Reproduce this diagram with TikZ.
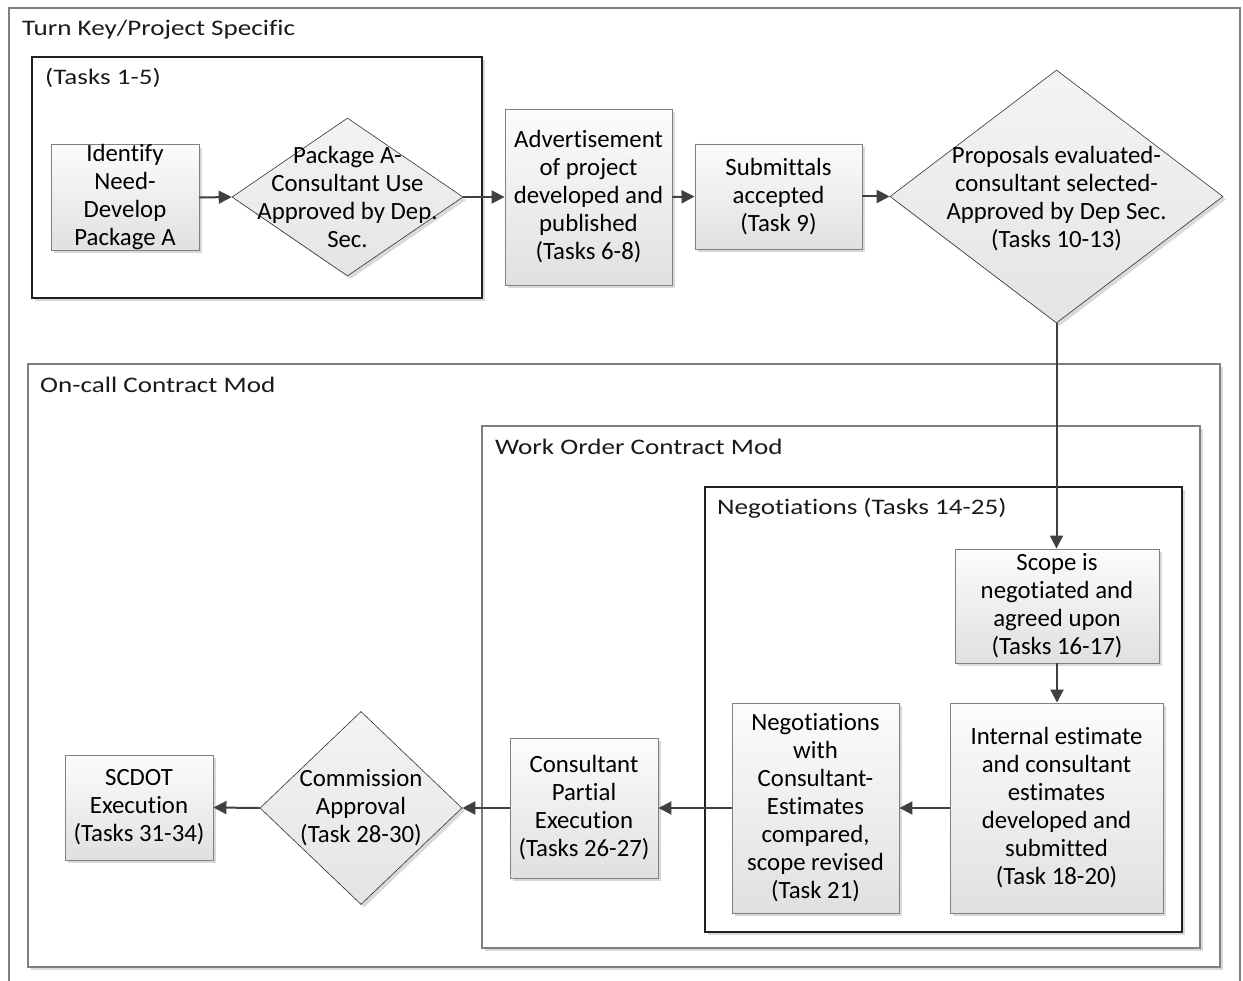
\documentclass[tikz,border=0pt]{standalone}
\usepackage{fontspec}
\setmainfont{Carlito}[Ligatures=NoCommon]
\newfontfamily\headfont{Carlito}[FakeStretch=1.22, Ligatures=NoCommon]
\usetikzlibrary{shapes.geometric,arrows.meta,shadows}

\definecolor{linkgray}{HTML}{404040}
\definecolor{framegray}{HTML}{808080}
\definecolor{framedark}{HTML}{202020}
\definecolor{boxedge}{HTML}{808080}
\definecolor{boxtop}{HTML}{FCFCFC}
\definecolor{boxbottom}{HTML}{E0E0E0}
\definecolor{diamtop}{HTML}{F4F4F4}
\definecolor{diambottom}{HTML}{E4E4E4}
\definecolor{headink}{HTML}{1A1A1A}

\tikzset{
  softshadow/.style={drop shadow={shadow xshift=3pt, shadow yshift=-3pt, fill=black, opacity=0.15}},
  bodyfont/.style={font=\fontsize{24.8}{28}\selectfont},
  task/.style={rectangle, draw=boxedge, line width=0.9pt, top color=boxtop,
    bottom color=boxbottom, inner sep=0pt, align=center, bodyfont, softshadow},
  decision/.style={diamond, draw=black!80, line width=0.6pt, top color=diamtop,
    bottom color=diambottom, inner sep=0pt, softshadow},
  decisiontext/.style={align=center, inner sep=0pt, bodyfont},
  heading/.style={anchor=west, inner sep=0pt, text=headink, font=\headfont\fontsize{22.2}{26}\selectfont},
  container/.style={draw=framegray, line width=1.2pt, fill=white, softshadow},
  innercontainer/.style={draw=framedark, line width=1.2pt, fill=white, softshadow},
  link/.style={draw=linkgray, line width=2pt, -{Triangle[length=13pt,width=13pt]}},
}

\begin{document}
\begin{tikzpicture}[x=1pt, y=-1pt]
\useasboundingbox (0,0) rectangle (1243,981);
\fill[white] (0,0) rectangle (1243,981);
\clip (0,0) rectangle (1243,981);

% outer swimlane, open at the bottom
\draw[draw=framegray, line width=1.2pt] (9,995) -- (9,8) -- (1240,8) -- (1240,995);
\node[heading] (hTurnKey) at (22,30) {Turn Key/Project Specific};

% containers
\draw[innercontainer] (32,57) rectangle (482,298);
\node[heading] (hTasks) at (45,78) {(Tasks 1-5)};

\draw[container] (28,364) rectangle (1220,967);
\node[heading] (hOnCall) at (40,385) {On-call Contract Mod};

\draw[container] (482,426) rectangle (1200,948);
\node[heading] (hWorkOrder) at (495,447) {Work Order Contract Mod};

\draw[innercontainer] (705,487) rectangle (1182,932);
\node[heading] (hNegot) at (717,508) {Negotiations (Tasks 14-25)};

% top row
\node[task, minimum width=148pt, minimum height=105pt] (ident) at (125,197.5)
  {Identify\\Need-\\Develop\\Package A};

\node[decision, minimum width=231pt, minimum height=158pt] (pkgA) at (347.5,197) {};
\node[decisiontext] (pkgAtext) at (pkgA.center) {Package A-\\Consultant Use\\Approved by Dep.\\Sec.};

\node[task, minimum width=167pt, minimum height=176pt] (advert) at (588.5,197)
  {Advertisement\\of project\\developed and\\published\\(Tasks 6-8)};

\node[task, minimum width=167pt, minimum height=105pt] (submit) at (778.5,196.5)
  {Submittals\\accepted\\(Task 9)};

\node[decision, minimum width=333pt, minimum height=253pt] (prop) at (1056.5,196.5) {};
\node[decisiontext] (proptext) at (1056.5,199)
  {Proposals evaluated-\\consultant selected-\\Approved by Dep Sec.\\(Tasks 10-13)};

% negotiation loop
\node[task, minimum width=204pt, minimum height=114pt] (scope) at (1057,606)
  {Scope is\\negotiated and\\agreed upon\\(Tasks 16-17)};

\node[task, minimum width=213pt, minimum height=210pt] (internal) at (1056.5,808)
  {Internal estimate\\and consultant\\estimates\\developed and\\submitted\\(Task 18-20)};

\node[task, minimum width=167pt, minimum height=210pt] (negot) at (815.5,808)
  {Negotiations\\with\\Consultant-\\Estimates\\compared,\\scope revised\\(Task 21)};

% bottom row
\node[task, minimum width=148pt, minimum height=140pt] (consult) at (584,808)
  {Consultant\\Partial\\Execution\\(Tasks 26-27)};

\node[decision, minimum width=202pt, minimum height=193pt] (comm) at (361,808) {};
\node[decisiontext] (commtext) at (comm.center) {Commission\\Approval\\(Task 28-30)};

\node[task, minimum width=148pt, minimum height=105pt] (scdot) at (139,807.5)
  {SCDOT\\Execution\\(Tasks 31-34)};

% connectors
\draw[link] (ident.east) -- (pkgA.west);
\draw[link] (pkgA.east) -- (advert.west);
\draw[link] (advert.east) -- (submit.west);
\draw[link] (submit.east) -- (prop.west);
\draw[link] (prop.south) -- (prop.south |- scope.north);
\draw[link] (scope.south) -- (scope.south |- internal.north);
\draw[link] (internal.west) -- (negot.east);
\draw[link] (negot.west) -- (consult.east);
\draw[link] (consult.west) -- (comm.east);
\draw[link] (comm.west) -- (scdot.east);
\end{tikzpicture}
\end{document}
